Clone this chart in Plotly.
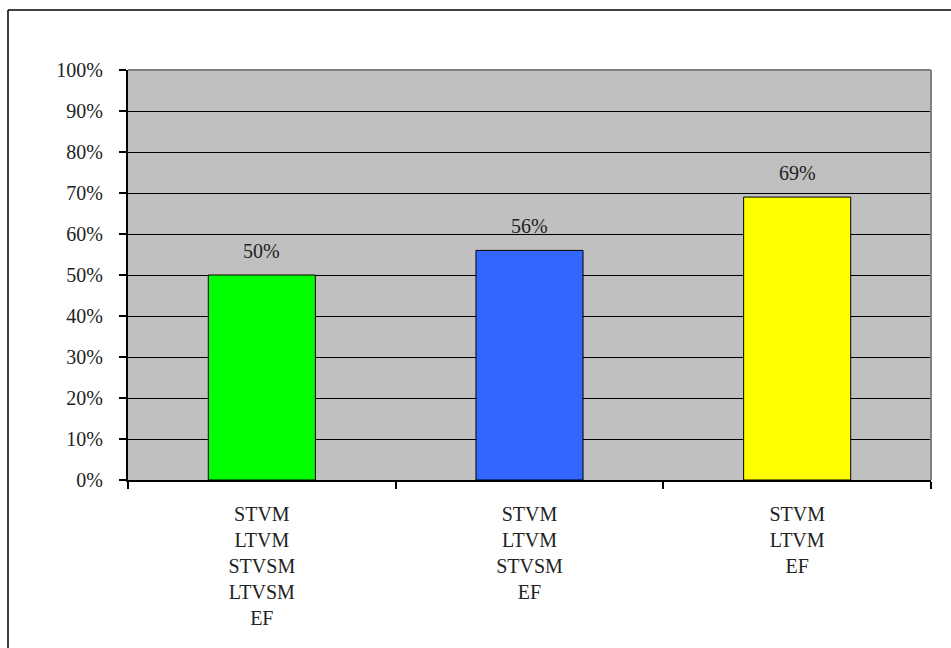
import plotly.graph_objects as go

categories = ["STVM<br>LTVM<br>STVSM<br>LTVSM<br>EF", "STVM<br>LTVM<br>STVSM<br>EF", "STVM<br>LTVM<br>EF"]
values = [50, 56, 69]
bar_colors = ["#00FF00", "#3366FF", "#FFFF00"]
y_ticks = [0, 10, 20, 30, 40, 50, 60, 70, 80, 90, 100]
y_tick_labels = [f"{v}%" for v in y_ticks]

FONT = "Liberation Serif"
FS = 20

fig = go.Figure()
fig.add_trace(go.Bar(
    x=categories, y=values,
    marker=dict(color=bar_colors, line=dict(color="black", width=1)),
    width=0.4,
    hoverinfo="skip",
))

for c, v in zip(categories, values):
    fig.add_annotation(x=c, y=v, text=f"{v}%", showarrow=False,
                       yanchor="bottom", yshift=11,
                       font=dict(family=FONT, size=FS, color="#222"))

W, H = 951, 648
L, R, T, B = 128, 20, 70, 168
pw, ph = W - L - R, H - T - B
def px_to_paper_x(px): return (px - L) / pw
def px_to_paper_y(py): return (H - B - py) / ph

# outer frame (left and top edges visible)
fig.add_shape(type="line", xref="paper", yref="paper",
              x0=px_to_paper_x(8), x1=px_to_paper_x(8),
              y0=px_to_paper_y(648), y1=px_to_paper_y(10),
              line=dict(color="black", width=1.5), layer="below")
fig.add_shape(type="line", xref="paper", yref="paper",
              x0=px_to_paper_x(8), x1=px_to_paper_x(951),
              y0=px_to_paper_y(10), y1=px_to_paper_y(10),
              line=dict(color="black", width=1.5), layer="below")

fig.update_layout(
    width=W, height=H,
    margin=dict(l=L, r=R, t=T, b=B),
    paper_bgcolor="white",
    plot_bgcolor="#C0C0C0",
    showlegend=False,
    font=dict(family=FONT, size=FS, color="#222"),
    xaxis=dict(
        type="category",
        tickson="boundaries",
        ticks="outside", ticklen=7, tickcolor="black", tickwidth=2,
        showline=True, linecolor="black", linewidth=2,
        showgrid=False,
        mirror=False,
        tickfont=dict(family=FONT, size=FS, color="#222"),
        ticklabelstandoff=15,
    ),
    yaxis=dict(
        range=[0, 100],
        tickvals=y_ticks, ticktext=y_tick_labels,
        ticks="outside", ticklen=7, tickcolor="black", tickwidth=2,
        showline=True, linecolor="black", linewidth=2,
        showgrid=True, gridcolor="black", gridwidth=1,
        zeroline=False,
        tickfont=dict(family=FONT, size=FS, color="#222"),
        ticklabelstandoff=12,
    ),
)

# gray top/right plot border
fig.add_shape(type="line", xref="paper", yref="paper", x0=0, x1=1, y0=1, y1=1,
              line=dict(color="#808080", width=2))
fig.add_shape(type="line", xref="paper", yref="paper", x0=1, x1=1, y0=0, y1=1,
              line=dict(color="#808080", width=2))

fig.write_html("out.html")
